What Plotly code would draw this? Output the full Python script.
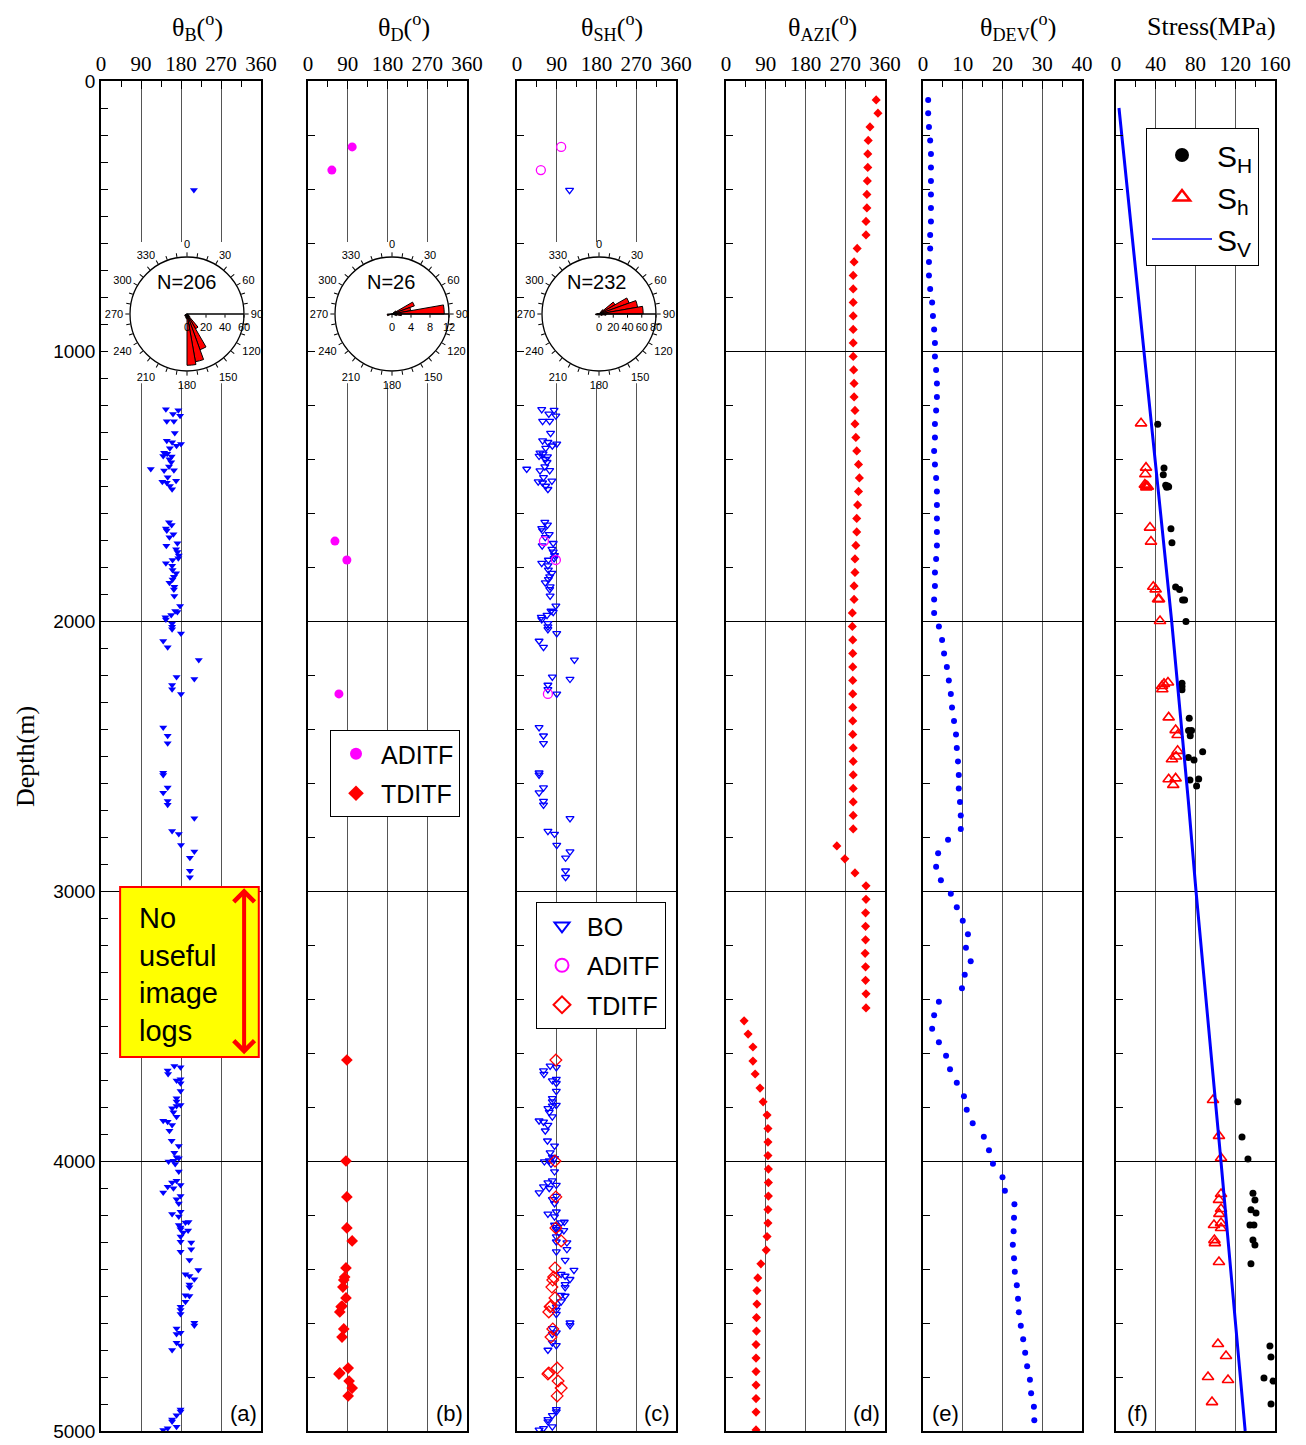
import plotly.graph_objects as go

W, H = 1306, 1445
SERIF = "Liberation Serif"
SANS = "Liberation Sans"

# ---------------- data ----------------
bo_depth = [404,
    1216, 1219, 1233, 1240, 1260, 1260, 1304, 1332, 1338, 1344, 1351, 1360, 1377, 1381, 1389, 1391, 1401, 1412,
    1428, 1437, 1443, 1442, 1468, 1484, 1488, 1481, 1500, 1512,
    1634, 1644, 1657, 1665, 1679, 1690, 1712, 1721, 1734, 1744, 1757, 1768, 1774, 1786, 1795, 1811, 1823, 1836,
    1846, 1858, 1873, 1883, 1907, 1944, 1963, 1967, 1978, 1986, 1994, 2009, 2021, 2031, 2046, 2074, 2097, 2144,
    2207, 2215, 2237, 2253, 2270, 2394, 2425, 2453, 2562, 2570, 2617, 2636, 2667, 2681, 2731, 2778, 2789, 2830,
    2854, 2877, 2925, 2949,
    3648, 3653, 3665, 3678, 3697, 3702, 3712, 3741, 3768, 3780, 3793, 3796, 3805, 3819, 3836, 3851, 3855, 3867,
    3888, 3925, 3944, 3969, 3986, 3990, 3999, 4002, 4011, 4039, 4073, 4080, 4089, 4095, 4101, 4117, 4130, 4142,
    4157, 4188, 4196, 4206, 4226, 4228, 4237, 4246, 4253, 4257, 4265, 4280, 4299, 4302, 4327, 4336, 4367, 4404,
    4419, 4426, 4438, 4457, 4468, 4497, 4500, 4521, 4540, 4552, 4567, 4599, 4609, 4620, 4636, 4641, 4673, 4683,
    4700, 4920, 4928, 4942, 4957, 4965, 4984, 4990, 4996]
bo_theta_b = [209,
    146, 174, 162, 178, 148, 164, 166, 148, 160, 180, 170, 155, 142, 149, 140, 159, 154, 158,
    153, 112, 142, 164, 150, 138, 148, 169, 155, 160,
    153, 159, 146, 148, 163, 154, 172, 147, 169, 172, 175, 174, 161, 146, 160, 161, 169, 164,
    161, 154, 165, 164, 165, 178, 167, 172, 158, 145, 146, 160, 160, 160, 180, 140, 150, 220,
    170, 210, 160, 160, 180, 140, 150, 150, 140, 140, 150, 140, 150, 150, 210, 160, 175, 180,
    210, 200, 200, 200,
    165, 179, 150, 151, 179, 170, 179, 179, 170, 170, 179, 170, 160, 163, 170, 140, 150, 160,
    154, 159, 175, 165, 170, 175, 163, 152, 167, 175, 170, 160, 179, 150, 163, 140, 179, 170,
    175, 179, 160, 175, 197, 190, 175, 179, 179, 196, 185, 179, 179, 203, 203, 179, 199, 219,
    190, 199, 210, 199, 199, 190, 199, 190, 179, 179, 179, 210, 210, 170, 179, 170, 170, 179,
    160, 179, 179, 170, 160, 160, 170, 150, 140]
# breakout-derived SHmax azimuth (perpendicular to breakout direction)
bo_theta_sh = [v - 90 for v in bo_theta_b]

aditf_depth = [244, 330, 1704, 1774, 2270]
aditf_theta = [100, 54, 61, 88, 70]
tditf_depth = [3626, 4000, 4133, 4248, 4296, 4396, 4430, 4441, 4467, 4507, 4537, 4540, 4559, 4622, 4652,
               4767, 4785, 4789, 4815, 4841, 4870]
tditf_theta = [88, 86, 88, 88, 100, 86, 83, 81, 79, 86, 77, 75, 72, 81, 77, 91, 72, 70, 93, 100, 91]

well_depth = [70, 119, 170, 220, 270, 320, 370, 420, 470, 520, 570, 620, 670, 720, 770, 820, 870, 920, 970,
              1020, 1070, 1120, 1170, 1220, 1270, 1320, 1370, 1420, 1470, 1520, 1570, 1620, 1670, 1720, 1770,
              1820, 1870, 1920, 1970, 2020, 2070, 2120, 2170, 2220, 2270, 2320, 2370, 2420, 2470, 2520, 2570,
              2620, 2670, 2720, 2770, 2833, 2881, 2933, 2981, 3031, 3081, 3131, 3181, 3231, 3281, 3331, 3381,
              3433, 3481, 3530, 3578, 3630, 3678, 3730, 3781, 3830, 3880, 3930, 3980, 4030, 4080, 4130, 4180,
              4230, 4280, 4330, 4381, 4433, 4480, 4530, 4580, 4630, 4680, 4730, 4780, 4830, 4880, 4930, 4996]
theta_azi = [340, 344, 326, 322, 321, 321, 320, 319, 319, 317, 317, 297, 290, 288, 288, 288, 288, 288, 288,
             288, 289, 290, 290, 292, 292, 294, 296, 300, 302, 300, 298, 296, 296, 294, 292,
             292, 290, 290, 286, 286, 287, 287, 287, 287, 287, 287, 287, 287, 288, 288, 288,
             288, 288, 288, 288, 251, 269, 292, 317, 317, 316, 316, 316, 315, 316, 316, 317,
             317, 41, 50, 61, 61, 66, 77, 84, 93, 95, 95, 95, 96, 96, 96, 95,
             95, 93, 91, 79, 72, 70, 70, 69, 69, 68, 68, 68, 68, 68, 68, 68]
dev_depth = [70, 119, 170, 220, 270, 320, 370, 420, 470, 520, 570, 620, 670, 720, 770, 820, 870, 920, 970,
             1020, 1070, 1120, 1170, 1220, 1270, 1320, 1370, 1420, 1470, 1520, 1570, 1620, 1670, 1720, 1770,
             1820, 1870, 1920, 1970, 2020, 2070, 2120, 2170, 2220, 2270, 2320, 2370, 2420, 2470, 2520, 2570,
             2620, 2670, 2720, 2770, 2810, 2860, 2910, 2960, 3010, 3060, 3110, 3160, 3210, 3260, 3310, 3360,
             3410, 3460, 3510, 3560, 3610, 3660, 3710, 3760, 3810, 3860, 3910, 3960, 4010, 4060, 4110, 4160,
             4210, 4260, 4310, 4360, 4410, 4460, 4510, 4560, 4610, 4660, 4710, 4760, 4810, 4860, 4910, 4960]
theta_dev = [1.3, 1.3, 1.5, 1.8, 2.0, 2.0, 2.0, 2.0, 2.0, 2.0, 1.8, 1.8, 1.5, 1.5, 1.8, 2.3, 2.5, 2.8, 3.0,
             3.0, 3.3, 3.5, 3.5, 3.3, 3.0, 3.0, 2.8, 3.0, 3.3, 3.5, 3.5, 3.5, 3.5, 3.5, 3.3,
             3.0, 3.0, 2.8, 2.8, 4.0, 4.8, 5.3, 6.0, 6.5, 7.0, 7.3, 7.8, 8.3, 8.5, 8.8, 9.0,
             9.0, 9.3, 9.5, 9.5, 6.3, 3.8, 3.3, 4.5, 7.0, 8.5, 10.0, 11.3, 10.8, 12.0, 10.5, 9.8,
             4.0, 2.8, 2.3, 4.0, 5.8, 6.8, 8.5, 10.3, 11.0, 12.5, 15.3, 16.6, 17.6, 20.0, 20.6, 23.0,
             22.9, 22.8, 22.6, 22.9, 23.1, 23.6, 23.9, 24.1, 24.6, 25.2, 25.7, 26.2, 26.9, 27.2, 27.9, 28.0]

sh_depth = [1271, 1433, 1458, 1497, 1500, 1503, 1505, 1658, 1710, 1874, 1883, 1922, 1922, 2002, 2231, 2243,
            2255, 2360, 2406, 2406, 2425, 2484, 2506, 2515, 2589, 2585, 2611,
            3781, 3911, 3993, 4119, 4144, 4181, 4193, 4237, 4237, 4293, 4311, 4381, 4685, 4726, 4804, 4815, 4900]
sh_val = [42, 48.3, 47.6, 50, 52, 53, 51, 55.3, 56.3, 60, 64, 67, 69, 70.4, 66.4, 66.4,
          66.4, 73.7, 73, 76, 74.7, 87.2, 72.8, 78.5, 74.4, 83.2, 81.1,
          122.7, 126.8, 132.8, 137.8, 139.8, 135.8, 140.9, 138.8, 134.8, 137.8, 139.8, 135.8, 154.9, 155.9,
          148.9, 158, 156]
shmin_depth = [1268, 1432, 1456, 1495, 1498, 1500, 1503, 1505, 1654, 1706, 1873, 1883, 1919, 1919, 2000,
               2241, 2233, 2228, 2253, 2357, 2404, 2422, 2481, 2502, 2512, 2586, 2583, 2607,
               3774, 3907, 3989, 4122, 4144, 4178, 4196, 4237, 4230, 4248, 4293, 4304, 4374, 4678, 4722,
               4800, 4811, 4893]
shmin_val = [25.2, 30.2, 29.5, 29, 30, 31, 32, 30.5, 34.2, 35.2, 37.5, 39.9, 42.3, 43.3, 44.3,
             46.3, 48.3, 52.3, 46.6, 53, 60, 62, 62, 60.4, 56.3, 53, 60, 57.6,
             97.6, 103.6, 105.7, 105.7, 103.6, 105.7, 104, 98.6, 105.7, 105.7, 99, 99.5, 103.6, 102.6,
             110.7, 92.6, 112.7, 96.6]
sv_depth = [100, 1204, 2000, 2663, 3000, 4000, 5000]
sv_val = [3, 33.5, 56, 72.7, 80.5, 105.6, 130]

rose_b_theta = [125, 135, 145, 155, 165, 175, 185, 195, 205, 215, 225, 235, 245]
rose_b_r = [2, 4, 18, 40, 51, 54, 5, 4, 3, 2, 2, 3, 2]
rose_d_theta = [55, 65, 75, 85, 95, 105, 255, 265]
rose_d_r = [1, 5, 4, 11, 2, 1, 1, 1]
rose_sh_theta = [45, 55, 65, 75, 85, 95, 105, 115, 245, 255, 265, 275]
rose_sh_r = [8, 26, 45, 55, 62, 10, 5, 4, 3, 4, 5, 3]

panel_titles = ["θ<sub>B</sub>(<sup>o</sup>)", "θ<sub>D</sub>(<sup>o</sup>)", "θ<sub>SH</sub>(<sup>o</sup>)",
                "θ<sub>AZI</sub>(<sup>o</sup>)", "θ<sub>DEV</sub>(<sup>o</sup>)", "Stress(MPa)"]
panel_tags = ["(a)", "(b)", "(c)", "(d)", "(e)", "(f)"]

# ---------------- layout helpers ----------------
def px(x):
    return x / W


def py(y):
    return 1 - y / H


panels = [(101, 261), (308, 467), (517, 676), (726, 885), (923, 1082), (1116, 1275)]
xranges = [[0, 360]] * 4 + [[0, 40], [0, 160]]
xdticks = [90, 90, 90, 90, 10, 40]
xminor = [45, 45, 45, 45, 5, 20]
YTOP, YBOT = 81, 1431

fig = go.Figure()


def ax(i):
    return ("x" if i == 0 else f"x{i+1}"), ("y" if i == 0 else f"y{i+1}")


# panel (a)
xa, ya = ax(0)
fig.add_trace(go.Scatter(x=bo_theta_b, y=bo_depth, mode="markers", xaxis=xa, yaxis=ya, showlegend=False,
                         marker=dict(symbol="triangle-down", size=7, color="blue")))
# panel (b)
xb, yb = ax(1)
fig.add_trace(go.Scatter(x=aditf_theta, y=aditf_depth, mode="markers", xaxis=xb, yaxis=yb, showlegend=False,
                         marker=dict(symbol="circle", size=9, color="magenta")))
fig.add_trace(go.Scatter(x=tditf_theta, y=tditf_depth, mode="markers", xaxis=xb, yaxis=yb, showlegend=False,
                         marker=dict(symbol="diamond", size=9, color="red")))
fig.add_trace(go.Scatter(x=[None], y=[None], mode="markers", xaxis=xb, yaxis=yb, name="ADITF",
                         legend="legend2", legendgroup="b1",
                         marker=dict(symbol="circle", size=12, color="magenta")))
fig.add_trace(go.Scatter(x=[None], y=[None], mode="markers", xaxis=xb, yaxis=yb, name="TDITF",
                         legend="legend2", legendgroup="b2",
                         marker=dict(symbol="diamond", size=12, color="red")))
# panel (c)
xc, yc = ax(2)
fig.add_trace(go.Scatter(x=bo_theta_sh, y=bo_depth, mode="markers", xaxis=xc, yaxis=yc, showlegend=False,
                         marker=dict(symbol="triangle-down-open", size=7, color="blue", line=dict(width=1.3))))
fig.add_trace(go.Scatter(x=aditf_theta, y=aditf_depth, mode="markers", xaxis=xc, yaxis=yc, showlegend=False,
                         marker=dict(symbol="circle-open", size=9, color="magenta", line=dict(width=1.3))))
fig.add_trace(go.Scatter(x=tditf_theta, y=tditf_depth, mode="markers", xaxis=xc, yaxis=yc, showlegend=False,
                         marker=dict(symbol="diamond-open", size=9, color="red", line=dict(width=1.3))))
for nm, sym, col, g in [("BO", "triangle-down-open", "blue", "c1"), ("ADITF", "circle-open", "magenta", "c2"),
                        ("TDITF", "diamond-open", "red", "c3")]:
    fig.add_trace(go.Scatter(x=[None], y=[None], mode="markers", xaxis=xc, yaxis=yc, name=nm,
                             legend="legend3", legendgroup=g,
                             marker=dict(symbol=sym, size=13, color=col, line=dict(width=2))))
# panel (d)
xd, yd = ax(3)
fig.add_trace(go.Scatter(x=theta_azi, y=well_depth, mode="markers", xaxis=xd, yaxis=yd, showlegend=False,
                         marker=dict(symbol="diamond", size=7, color="red")))
# panel (e)
xe, ye = ax(4)
fig.add_trace(go.Scatter(x=theta_dev, y=dev_depth, mode="markers", xaxis=xe, yaxis=ye, showlegend=False,
                         marker=dict(symbol="circle", size=6, color="blue")))
# panel (f)
xf, yf = ax(5)
fig.add_trace(go.Scatter(x=sh_val, y=sh_depth, mode="markers", xaxis=xf, yaxis=yf, showlegend=False,
                         marker=dict(symbol="circle", size=7, color="black")))
fig.add_trace(go.Scatter(x=shmin_val, y=shmin_depth, mode="markers", xaxis=xf, yaxis=yf, showlegend=False,
                         marker=dict(symbol="triangle-up-open", size=10, color="red", line=dict(width=1.6))))
fig.add_trace(go.Scatter(x=sv_val, y=sv_depth, mode="lines", xaxis=xf, yaxis=yf, showlegend=False,
                         line=dict(color="blue", width=3)))
fig.add_trace(go.Scatter(x=[None], y=[None], mode="markers", xaxis=xf, yaxis=yf, name="S<sub>H</sub>",
                         legend="legend", legendgroup="f1",
                         marker=dict(symbol="circle", size=14, color="black")))
fig.add_trace(go.Scatter(x=[None], y=[None], mode="markers", xaxis=xf, yaxis=yf, name="S<sub>h</sub>",
                         legend="legend", legendgroup="f2",
                         marker=dict(symbol="triangle-up-open", size=14, color="red", line=dict(width=2.5))))
fig.add_trace(go.Scatter(x=[None], y=[None], mode="lines", xaxis=xf, yaxis=yf, name="S<sub>V</sub>",
                         legend="legend", legendgroup="f3", line=dict(color="blue", width=1.5)))

# rose diagrams
for name, th, rr in [("polar", rose_b_theta, rose_b_r), ("polar2", rose_d_theta, rose_d_r),
                     ("polar3", rose_sh_theta, rose_sh_r)]:
    fig.add_trace(go.Barpolar(theta=th, r=rr, width=[10] * len(th), subplot=name, showlegend=False,
                              marker=dict(color="red", line=dict(color="black", width=1))))

layout = dict(width=W, height=H, margin=dict(l=0, r=0, t=0, b=0, pad=0, autoexpand=False),
              paper_bgcolor="white", plot_bgcolor="white", showlegend=True)

ydom = [py(YBOT), py(YTOP)]
for i, (x0, x1) in enumerate(panels):
    xk = "xaxis" if i == 0 else f"xaxis{i+1}"
    yk = "yaxis" if i == 0 else f"yaxis{i+1}"
    xn, yn = ax(i)
    layout[xk] = dict(domain=[px(x0), px(x1)], range=xranges[i], side="top", anchor=yn,
                      tickmode="linear", tick0=0, dtick=xdticks[i], ticks="inside", ticklen=8,
                      tickcolor="black", showgrid=True, gridcolor="#555555", gridwidth=1,
                      showline=True, mirror=True, linecolor="black", linewidth=1.5, zeroline=False,
                      tickfont=dict(family=SERIF, size=21, color="black"),
                      minor=dict(dtick=xminor[i], ticks="inside", ticklen=6, tickcolor="black", showgrid=False))
    ycfg = dict(domain=ydom, range=[5000, 0], anchor=xn, tickmode="linear", tick0=0, dtick=1000,
                ticks="inside", ticklen=7, tickcolor="black", showgrid=True, gridcolor="black", gridwidth=1,
                showline=True, mirror=True, linecolor="black", linewidth=1.5, zeroline=False,
                showticklabels=(i == 0), tickfont=dict(family=SANS, size=19, color="black"),
                minor=dict(dtick=100 if i == 0 else 200, ticks="inside", ticklen=7, tickcolor="black",
                           showgrid=False))
    if i > 0:
        ycfg["matches"] = "y"
    layout[yk] = ycfg


def polar_cfg(cx, rmax, rticks):
    return dict(domain=dict(x=[px(cx - 57), px(cx + 57)], y=[py(314 + 57), py(314 - 57)]), bgcolor="white",
                angularaxis=dict(rotation=90, direction="clockwise", tickmode="array",
                                 tickvals=list(range(0, 360, 10)),
                                 ticktext=[str(a) if a % 30 == 0 else " " for a in range(0, 360, 10)],
                                 ticks="outside", ticklen=4, tickcolor="black", showgrid=False, showline=True,
                                 linecolor="black", linewidth=1.3,
                                 tickfont=dict(family=SANS, size=11, color="black")),
                radialaxis=dict(range=[0, rmax], angle=0, tickangle=0, side="clockwise", tickmode="array",
                                tickvals=rticks, showgrid=False, showline=True, linecolor="black", linewidth=1.3,
                                ticks="outside", ticklen=3, tickcolor="black",
                                tickfont=dict(family=SANS, size=11, color="black")))


layout["polar"] = polar_cfg(187, 60, [0, 20, 40, 60])
layout["polar2"] = polar_cfg(392, 12, [0, 4, 8, 12])
layout["polar3"] = polar_cfg(599, 80, [0, 20, 40, 60, 80])

layout["legend"] = dict(x=px(1146), y=py(128), xanchor="left", yanchor="top", bgcolor="white",
                        bordercolor="black", borderwidth=1, font=dict(family=SANS, size=30, color="black"),
                        tracegroupgap=0, itemwidth=60)
layout["legend2"] = dict(x=px(330), y=py(730), xanchor="left", yanchor="top", bgcolor="white",
                         bordercolor="black", borderwidth=1, font=dict(family=SANS, size=25, color="black"),
                         tracegroupgap=4, itemwidth=40)
layout["legend3"] = dict(x=px(536), y=py(902), xanchor="left", yanchor="top", bgcolor="white",
                         bordercolor="black", borderwidth=1, font=dict(family=SANS, size=25, color="black"),
                         tracegroupgap=4, itemwidth=40)

fig.update_layout(**layout)


def note(text, xp, yp, size, family, **kw):
    d = dict(text=text, x=px(xp), y=py(yp), xref="paper", yref="paper", showarrow=False,
             xanchor="center", yanchor="middle", font=dict(family=family, size=size, color="black"))
    d.update(kw)
    fig.add_annotation(**d)


# annotations
title_centers = [197, 404, 612, 822, 1018, 1211]
for t, cxp in zip(panel_titles, title_centers):
    note(t, cxp, 27, 26, SERIF)
tag_pos = [243, 449, 657, 866, 945, 1137]
for t, xp in zip(panel_tags, tag_pos):
    note(t, xp, 1413, 22, SANS)
for t, xp in [("N=206", 187), ("N=26", 391), ("N=232", 597)]:
    note(t, xp, 282, 20, SANS)
note("Depth(m)", 25, 756, 26, SERIF, textangle=-90)

# white backing behind roses (hides grid lines)
for i in range(3):
    xn, yn = ax(i)
    fig.add_shape(type="rect", xref=xn, yref=yn, x0=0, x1=360, y0=596, y1=1119, fillcolor="white",
                  line=dict(width=0), layer="between")

# "No useful image logs" box
fig.add_shape(type="rect", xref="x", yref="y", x0=43, x1=355, y0=2985, y1=3615, fillcolor="yellow",
              line=dict(color="red", width=2), layer="above")
note("No<br>useful<br>image<br>logs", 137, 974, 29, SANS, xanchor="left", align="left")
fig.add_annotation(text="", x=322, y=2990, xref="x", yref="y", ax=322, ay=3610, axref="x", ayref="y",
                   showarrow=True, arrowhead=4, startarrowhead=4, arrowside="end+start", arrowwidth=4,
                   arrowsize=1, startarrowsize=1, arrowcolor="red", standoff=0, startstandoff=0)

fig.write_html("out.html", config={"displayModeBar": False},
               post_script="document.body.style.margin='0px';")
